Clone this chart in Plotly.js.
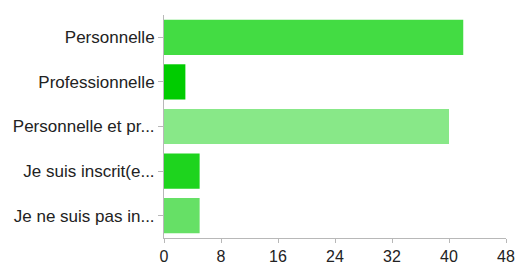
<!DOCTYPE html>
<html><head><meta charset="utf-8">
<script src="https://cdn.plot.ly/plotly-3.0.1.min.js"></script>
<style>html,body{margin:0;padding:0;background:#fff}#c{width:518px;height:264px}</style>
</head><body><div id="c"></div>
<script>
const categories = ["Personnelle", "Professionnelle", "Personnelle et pr...", "Je suis inscrit(e...", "Je ne suis pas in..."];
const values = [42, 3, 40, 5, 5];
const colors = ["#43DC43", "#00CC00", "#88E888", "#1ED41E", "#66E066"];
const xTicks = [0, 8, 16, 24, 32, 40, 48];

Plotly.newPlot("c", [{
  type: "bar", orientation: "h",
  y: categories, x: values,
  marker: {color: colors},
  width: 0.79,
  hoverinfo: "none"
}], {
  width: 518, height: 264,
  margin: {l: 164, r: 12, t: 15, b: 26},
  paper_bgcolor: "#fff", plot_bgcolor: "#fff",
  showlegend: false,
  font: {family: "Liberation Sans, Arial, sans-serif", size: 17, color: "#222"},
  xaxis: {range: [0, 48], tickvals: xTicks, ticktext: xTicks.map(String),
    showgrid: false, zeroline: false, showline: true, linecolor: "#b8b8b8", linewidth: 1,
    ticks: "outside", ticklen: 4, tickcolor: "#b8b8b8", fixedrange: true,
    ticklabelstandoff: 0, tickfont: {size: 16, color: "#222"}},
  yaxis: {autorange: "reversed", showgrid: false, zeroline: false, showline: true,
    linecolor: "#b8b8b8", linewidth: 1, ticks: "outside", ticklen: 5, tickcolor: "#b8b8b8",
    ticklabelstandoff: 0, tickfont: {size: 17, color: "#222"}, fixedrange: true}
}, {displayModeBar: false, staticPlot: true});
</script></body></html>
